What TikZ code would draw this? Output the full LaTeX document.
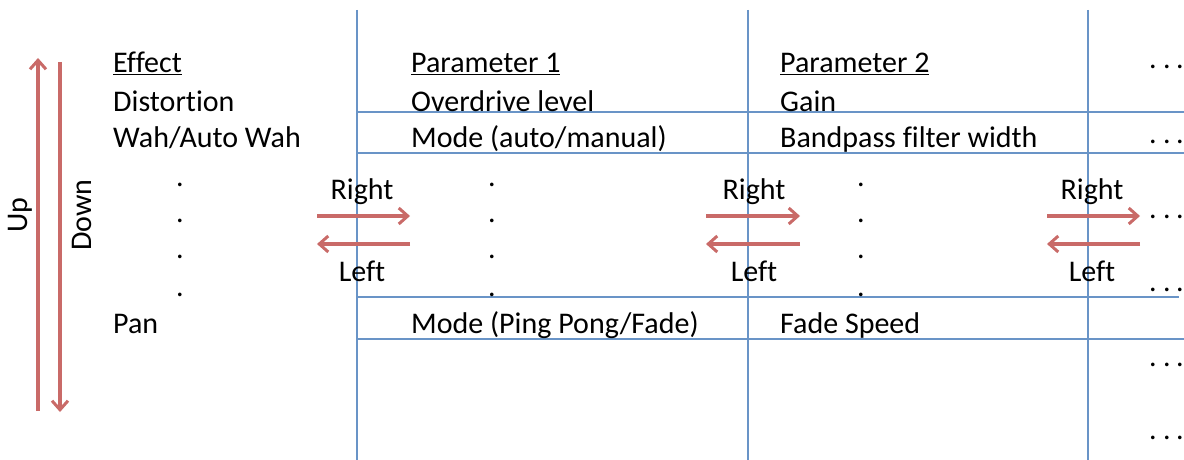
\documentclass[tikz,border=0pt]{standalone}
\usepackage{fontspec}
\setmainfont[Ligatures={NoCommon}]{Carlito}
\usetikzlibrary{arrows.meta}
\definecolor{gridblue}{HTML}{4F81BD}
\definecolor{arrred}{HTML}{C0504D}
\tikzset{
  txt/.style={anchor=base west, inner sep=0pt, font=\fontsize{30}{36}\selectfont},
  ctxt/.style={anchor=base, inner sep=0pt, font=\fontsize{30}{36}\selectfont},
  gridline/.style={draw=gridblue!85, line width=1.5pt},
  redarrow/.style={draw=arrred!85, line width=3.5pt, -{Straight Barb[length=9pt,width=16pt,line width=3pt]}},
}
\begin{document}
\begin{tikzpicture}[x=1pt,y=-1pt]
\useasboundingbox (0,0) rectangle (1184,460);
\clip (0,0) rectangle (1184,460);
% grid
\coordinate (v1t) at (357,10); \coordinate (v1b) at (357,460);
\coordinate (v2t) at (748,10); \coordinate (v2b) at (748,460);
\coordinate (v3t) at (1088,10); \coordinate (v3b) at (1088,460);
\draw[gridline] (v1t) -- (v1b);
\draw[gridline] (v2t) -- (v2b);
\draw[gridline] (v3t) -- (v3b);
\coordinate (h1a) at (357,112); \coordinate (h1b) at (1184,112);
\coordinate (h2a) at (357,153); \coordinate (h2b) at (1184,153);
\coordinate (h3a) at (357,297); \coordinate (h3b) at (1179,297);
\coordinate (h4a) at (357,339); \coordinate (h4b) at (1184,339);
\draw[gridline] (h1a) -- (h1b);
\draw[gridline] (h2a) -- (h2b);
\draw[gridline] (h3a) -- (h3b);
\draw[gridline] (h4a) -- (h4b);
% up/down arrows
\coordinate (upS) at (38,411); \coordinate (upE) at (38,58);
\coordinate (dnS) at (60,62); \coordinate (dnE) at (60,412);
\draw[redarrow] (upS) -- (upE);
\draw[redarrow] (dnS) -- (dnE);
\node[rotate=90, inner sep=0pt, font=\fontsize{30}{36}\selectfont] (up) at (20,215) {Up};
\node[rotate=90, inner sep=0pt, font=\fontsize{30}{36}\selectfont] (down) at (82,215) {Down};
% column 0
\node[txt] (eff) at (113,73) {\underline{Effect}};
\node[txt] (dist) at (113,111) {Distortion};
\node[txt] (wah) at (113,147) {Wah/Auto Wah};
\node[txt] (pan) at (113,333) {Pan};
% column 1
\node[txt] (p1) at (411,73) {\underline{Parameter 1}};
\node[txt] (od) at (411,111) {Overdrive level};
\node[txt] (m1) at (411,147) {Mode (auto/manual)};
\node[txt] (m2) at (411,333) {Mode (Ping Pong/Fade)};
% column 2
\node[txt] (p2) at (780,73) {\underline{Parameter 2}};
\node[txt] (gain) at (780,111) {Gain};
\node[txt] (bp) at (780,147) {Bandpass filter width};
\node[txt] (fs) at (780,333) {Fade Speed};
% vertical dots
\foreach \cx/\n in {180/a,492/b,861/c}{
  \foreach \cy/\m in {186/1,222/2,258/3,296/4}{
    \node[ctxt] (dot\n\m) at (\cx,\cy) {.};
  }
}
% right dots
\foreach \cy/\m in {69/1,143/2,218/3,291/4,366/5,439/6}{
  \foreach \dx/\k in {1153/a,1167/b,1180/c}{
    \node[ctxt] (rd\m\k) at (\dx,\cy) {.};
  }
}
% right/left arrows
\foreach \xa/\xb/\xc/\n in {317/410/362/a,706/800/754/b,1047/1140/1092/c}{
  \coordinate (rs\n) at (\xa,216); \coordinate (re\n) at (\xb,216);
  \coordinate (ls\n) at (\xb,244); \coordinate (le\n) at (\xa,244);
  \draw[redarrow] (rs\n) -- (re\n);
  \draw[redarrow] (ls\n) -- (le\n);
  \node[ctxt] (right\n) at (\xc,199) {Right};
  \node[ctxt] (left\n) at (\xc,281) {Left};
}
\end{tikzpicture}
\end{document}
